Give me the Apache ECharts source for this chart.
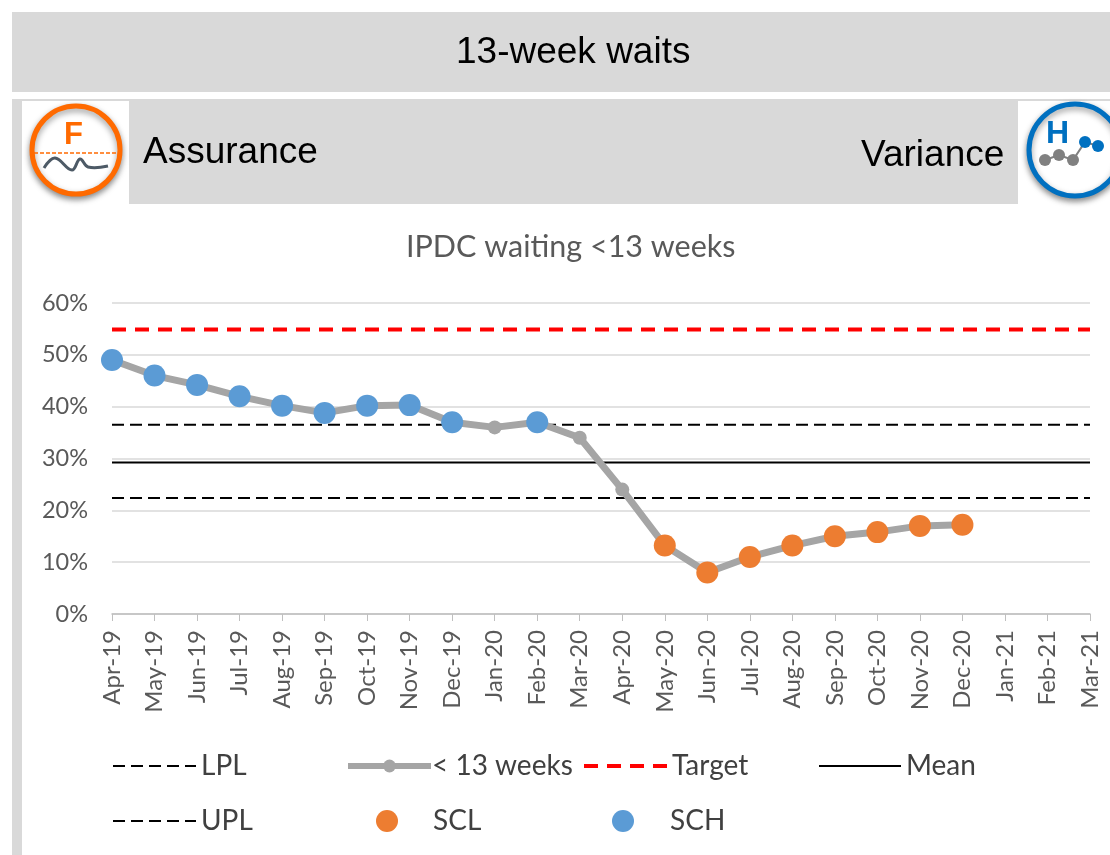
<!DOCTYPE html>
<html><head><meta charset="utf-8">
<style>html,body{margin:0;padding:0;background:#fff}#c{width:1110px;height:855px}</style>
<script src="https://cdn.jsdelivr.net/npm/echarts@6/dist/echarts.min.js"></script>
</head><body><div id="c"></div>
<script>
const categories = ['Apr-19','May-19','Jun-19','Jul-19','Aug-19','Sep-19','Oct-19','Nov-19','Dec-19','Jan-20','Feb-20','Mar-20','Apr-20','May-20','Jun-20','Jul-20','Aug-20','Sep-20','Oct-20','Nov-20','Dec-20','Jan-21','Feb-21','Mar-21'];
const weeks13 = [49,46,44.2,42,40.2,38.8,40.2,40.3,37,36,37,34,24,13.2,8,11,13.2,15,15.8,17,17.2,null,null,null];
const scl = [null,null,null,null,null,null,null,null,null,null,null,null,null,13.2,8,11,13.2,15,15.8,17,17.2,null,null,null];
const sch = [49,46,44.2,42,40.2,38.8,40.2,40.3,37,null,37,null,null,null,null,null,null,null,null,null,null,null,null,null];
const target = categories.map(() => 54.9);
const upl = categories.map(() => 36.5);
const mean = categories.map(() => 29.25);
const lpl = categories.map(() => 22.4);

const GREY = '#d9d9d9', TXT = '#404040', FONT = 'Lato';
function leg(name, left, top, w, h, lw, pad, hideSym) {
  return {show: true, data: [name], left, top, orient: 'horizontal', padding: 0,
    itemWidth: w, itemHeight: h, itemGap: 0, selectedMode: false,
    lineStyle: {width: lw},
    itemStyle: hideSym ? {opacity: 0} : {},
    textStyle: {color: TXT, fontFamily: FONT, fontSize: 28, padding: [0, 0, 0, pad]}};
}
function rect(x, y, w, h, fill) { return {type: 'rect', silent: true, z: 0, shape: {x, y, width: w, height: h}, style: {fill}}; }
function txt(t, x, y, size, color, extra) {
  return {type: 'text', silent: true, z: 5, x, y, style: Object.assign({text: t, fill: color || '#000', fontFamily: 'Liberation Sans', fontSize: size, textVerticalAlign: 'middle'}, extra || {})};
}
function dot(cx, cy, r, fill) { return {type: 'circle', silent: true, z: 6, shape: {cx, cy, r}, style: {fill}}; }

const graphicEls = [
  rect(12, 12, 1098, 80, GREY),
  rect(12, 99, 1098, 105, GREY),
  rect(12, 204, 10, 651, GREY),
  rect(22, 101, 107, 103, '#fff'),
  rect(1018, 101, 92, 103, '#fff'),
  txt('13-week waits', 456, 53, 37),
  txt('Assurance', 143, 153, 37),
  txt('Variance', 861, 156, 37),
  {type: 'circle', silent: true, z: 5, shape: {cx: 76, cy: 150, r: 44}, style: {fill: '#fff', stroke: '#FF6A00', lineWidth: 5, shadowBlur: 6, shadowColor: 'rgba(0,0,0,0.4)', shadowOffsetY: 3}},
  txt('F', 64, 135, 31, '#FF6A00', {fontWeight: 'bold'}),
  {type: 'line', silent: true, z: 6, shape: {x1: 34, y1: 153, x2: 118, y2: 153}, style: {stroke: '#FF6A00', lineWidth: 1.5, lineDash: [4, 2]}},
  {type: 'polyline', silent: true, z: 6, shape: {smooth: 0.4, points: [[44,168],[55,158],[72,170],[80,159],[88,167],[108,166]]}, style: {stroke: '#4d5a66', lineWidth: 3, fill: 'none'}},
  {type: 'circle', silent: true, z: 5, shape: {cx: 1075, cy: 150, r: 46}, style: {fill: '#fff', stroke: '#0070C0', lineWidth: 5, shadowBlur: 6, shadowColor: 'rgba(0,0,0,0.4)', shadowOffsetY: 3}},
  txt('H', 1046, 134, 32, '#0070C0', {fontWeight: 'bold'}),
  {type: 'polyline', silent: true, z: 6, shape: {points: [[1045,160],[1059,155],[1073,160],[1085,142],[1098,146]]}, style: {stroke: '#808080', lineWidth: 2, fill: 'none'}},
  dot(1045, 160, 6, '#808080'), dot(1059, 155, 6, '#808080'), dot(1073, 160, 6, '#808080'),
  dot(1085, 142, 6, '#0070C0'), dot(1098, 146, 6, '#0070C0')
];

function hline(name, data, color, width, type) {
  return {name, type: 'line', data, symbol: 'none', z: 3, silent: true,
    lineStyle: {color, width, type}, itemStyle: {color}};
}
const chart = echarts.init(document.getElementById('c'), null, {renderer: 'canvas'});
chart.setOption({
  animation: false,
  backgroundColor: '#fff',
  title: {text: 'IPDC waiting <13 weeks', left: 406, top: 232, padding: 0, textStyle: {color: '#595959', fontFamily: FONT, fontSize: 30.5, fontWeight: 'normal'}},
  graphic: {elements: graphicEls},
  grid: {left: 112, right: 20, top: 303, height: 311, containLabel: false},
  legend: [
    leg('LPL', 112, 752, 83, 24, 2, 0, true),
    leg('< 13 weeks', 345, 752, 83, 16, 6, -4, false),
    leg('Target', 582, 752, 83, 24, 4, 0, true),
    leg('Mean', 818, 752, 82, 24, 2, 0, true),
    leg('UPL', 112, 807, 83, 24, 2, 0, true),
    leg('SCL', 376, 807, 22, 22, 0, 30, false),
    leg('SCH', 612, 807, 22, 22, 0, 31, false)
  ],
  xAxis: {type: 'category', data: categories, boundaryGap: false,
    axisLine: {lineStyle: {color: '#bfbfbf', width: 1.5}},
    axisTick: {show: true, length: 7, alignWithLabel: true, lineStyle: {color: '#bfbfbf'}},
    axisLabel: {rotate: 90, interval: 0, margin: 16, color: '#595959', fontFamily: FONT, fontSize: 24},
    splitLine: {show: false}},
  yAxis: {type: 'value', min: 0, max: 60, interval: 10,
    axisLine: {show: false}, axisTick: {show: false},
    axisLabel: {formatter: '{value}%', margin: 24, color: '#595959', fontFamily: FONT, fontSize: 23.5},
    splitLine: {lineStyle: {color: GREY, width: 1.5}}},
  series: [
    hline('LPL', lpl, '#000', 2, [12, 6]),
    {name: '< 13 weeks', type: 'line', data: weeks13, z: 4, symbol: 'circle', symbolSize: 14, showSymbol: true,
      lineStyle: {color: '#A5A5A5', width: 7}, itemStyle: {color: '#A5A5A5'}},
    hline('Target', target, '#FF0000', 4, [14, 9]),
    hline('Mean', mean, '#000', 2, 'solid'),
    hline('UPL', upl, '#000', 2, [12, 6]),
    {name: 'SCL', type: 'scatter', data: scl, z: 5, symbol: 'circle', symbolSize: 22, symbolKeepAspect: true, itemStyle: {color: '#ED7D31', opacity: 1}},
    {name: 'SCH', type: 'scatter', data: sch, z: 5, symbol: 'circle', symbolSize: 22, symbolKeepAspect: true, itemStyle: {color: '#5B9BD5', opacity: 1}}
  ]
});
</script></body></html>
